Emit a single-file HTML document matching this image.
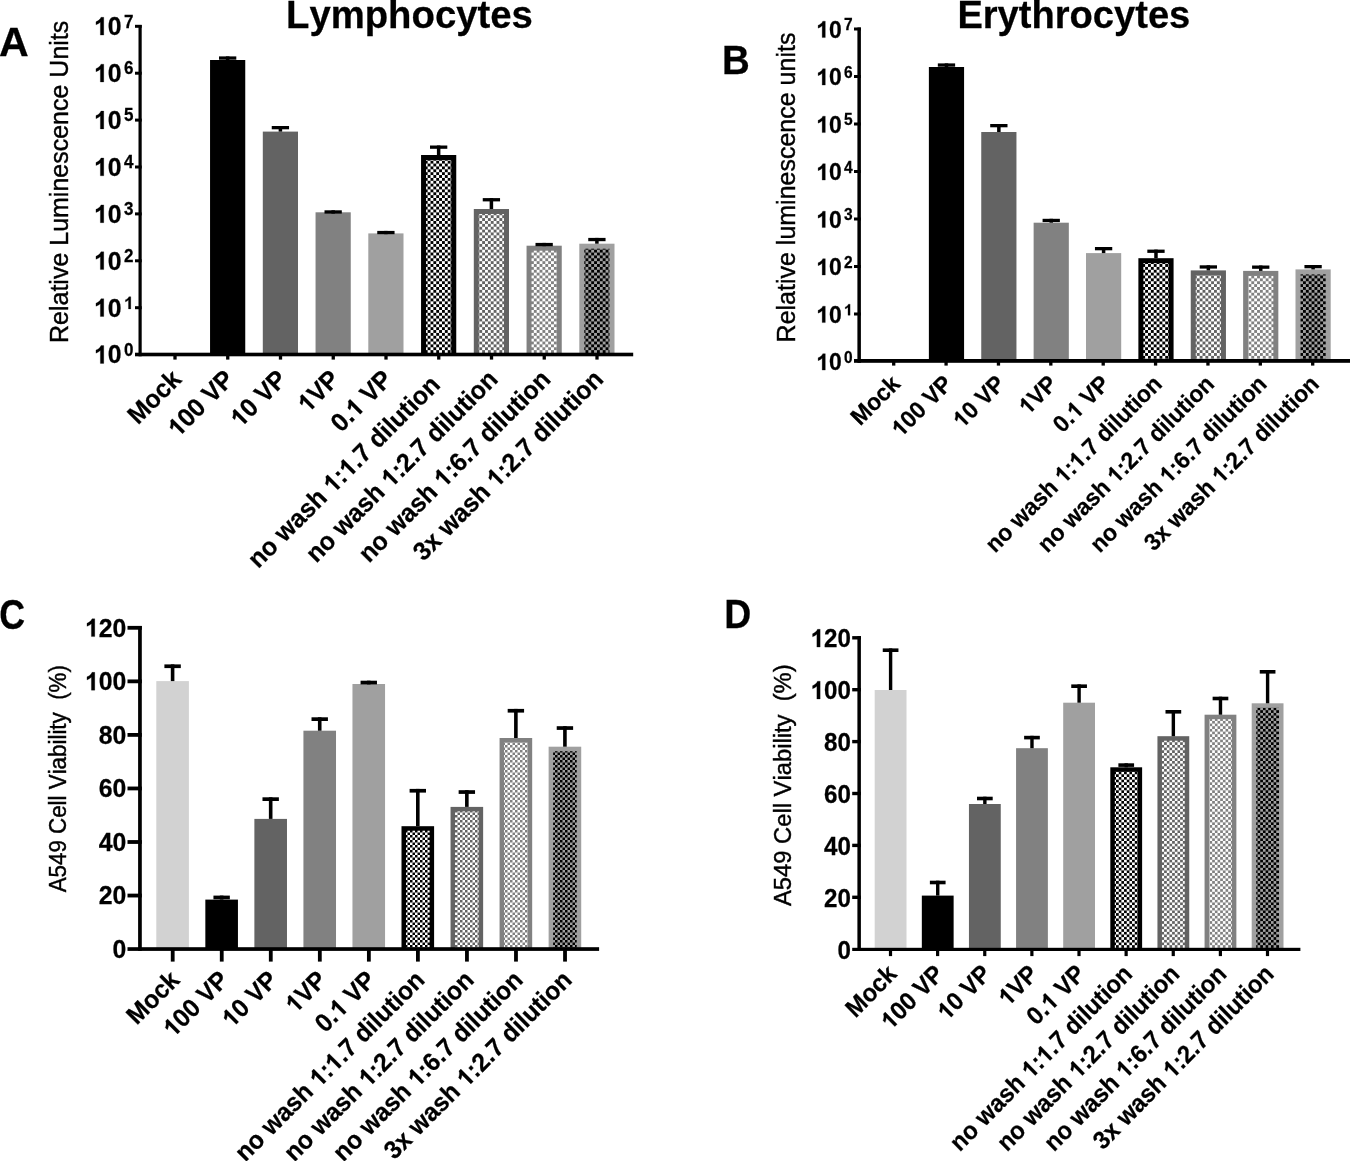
<!DOCTYPE html>
<html><head><meta charset="utf-8"><title>Figure</title>
<style>html,body{margin:0;padding:0;background:#fff;}svg{display:block;will-change:transform;}text{font-family:"Liberation Sans",sans-serif;fill:#000;font-kerning:none;white-space:pre;}.b{font-weight:bold;stroke:#000;stroke-width:0.25px;}.r{font-weight:normal;stroke:#000;stroke-width:0.4px;}</style></head><body>
<svg width="1350" height="1161" viewBox="0 0 1350 1161">
<rect width="1350" height="1161" fill="#fff"/>
<defs>
<pattern id="pak" x="0" y="0" width="5.74" height="5.74" patternUnits="userSpaceOnUse">
<rect width="5.74" height="5.74" fill="#fff"/>
<rect x="0" y="0" width="2.87" height="2.87" fill="#000"/>
<rect x="2.87" y="2.87" width="2.87" height="2.87" fill="#000"/>
</pattern>
<pattern id="pad" x="0" y="0" width="5.74" height="5.74" patternUnits="userSpaceOnUse">
<rect width="5.74" height="5.74" fill="#fff"/>
<rect x="0" y="0" width="2.87" height="2.87" fill="#636363"/>
<rect x="2.87" y="2.87" width="2.87" height="2.87" fill="#636363"/>
</pattern>
<pattern id="pam" x="0" y="0" width="5.74" height="5.74" patternUnits="userSpaceOnUse">
<rect width="5.74" height="5.74" fill="#fff"/>
<rect x="0" y="0" width="2.87" height="2.87" fill="#818181"/>
<rect x="2.87" y="2.87" width="2.87" height="2.87" fill="#818181"/>
</pattern>
<pattern id="pal" x="0" y="0" width="5.74" height="5.74" patternUnits="userSpaceOnUse">
<rect width="5.74" height="5.74" fill="#a0a0a0"/>
<rect x="0" y="0" width="2.87" height="2.87" fill="#000"/>
<rect x="2.87" y="2.87" width="2.87" height="2.87" fill="#000"/>
</pattern>
<pattern id="pck" x="0" y="0" width="5" height="5" patternUnits="userSpaceOnUse">
<rect width="5" height="5" fill="#fff"/>
<rect x="0" y="0" width="2.5" height="2.5" fill="#000"/>
<rect x="2.5" y="2.5" width="2.5" height="2.5" fill="#000"/>
</pattern>
<pattern id="pcd" x="0" y="0" width="5" height="5" patternUnits="userSpaceOnUse">
<rect width="5" height="5" fill="#fff"/>
<rect x="0" y="0" width="2.5" height="2.5" fill="#636363"/>
<rect x="2.5" y="2.5" width="2.5" height="2.5" fill="#636363"/>
</pattern>
<pattern id="pcm" x="0" y="0" width="5" height="5" patternUnits="userSpaceOnUse">
<rect width="5" height="5" fill="#fff"/>
<rect x="0" y="0" width="2.5" height="2.5" fill="#818181"/>
<rect x="2.5" y="2.5" width="2.5" height="2.5" fill="#818181"/>
</pattern>
<pattern id="pcl" x="0" y="0" width="5" height="5" patternUnits="userSpaceOnUse">
<rect width="5" height="5" fill="#a0a0a0"/>
<rect x="0" y="0" width="2.5" height="2.5" fill="#000"/>
<rect x="2.5" y="2.5" width="2.5" height="2.5" fill="#000"/>
</pattern>
<pattern id="pdk" x="0" y="0" width="5.34" height="5.34" patternUnits="userSpaceOnUse">
<rect width="5.34" height="5.34" fill="#fff"/>
<rect x="0" y="0" width="2.67" height="2.67" fill="#000"/>
<rect x="2.67" y="2.67" width="2.67" height="2.67" fill="#000"/>
</pattern>
<pattern id="pdd" x="0" y="0" width="5.34" height="5.34" patternUnits="userSpaceOnUse">
<rect width="5.34" height="5.34" fill="#fff"/>
<rect x="0" y="0" width="2.67" height="2.67" fill="#636363"/>
<rect x="2.67" y="2.67" width="2.67" height="2.67" fill="#636363"/>
</pattern>
<pattern id="pdm" x="0" y="0" width="5.34" height="5.34" patternUnits="userSpaceOnUse">
<rect width="5.34" height="5.34" fill="#fff"/>
<rect x="0" y="0" width="2.67" height="2.67" fill="#818181"/>
<rect x="2.67" y="2.67" width="2.67" height="2.67" fill="#818181"/>
</pattern>
<pattern id="pdl" x="0" y="0" width="5.34" height="5.34" patternUnits="userSpaceOnUse">
<rect width="5.34" height="5.34" fill="#a0a0a0"/>
<rect x="0" y="0" width="2.67" height="2.67" fill="#000"/>
<rect x="2.67" y="2.67" width="2.67" height="2.67" fill="#000"/>
</pattern>
</defs>
<g id="panelA">
<rect x="210.05" y="60" width="35.2" height="293.7" fill="#000000"/>
<rect x="225.9" y="56.4" width="3.5" height="3.6" fill="#000"/>
<rect x="219" y="56.4" width="17.3" height="3.3" fill="#000"/>
<rect x="262.8" y="131.6" width="35.2" height="222.1" fill="#636363"/>
<rect x="278.65" y="126" width="3.5" height="5.6" fill="#000"/>
<rect x="271.75" y="126" width="17.3" height="3.3" fill="#000"/>
<rect x="315.55" y="212.3" width="35.2" height="141.4" fill="#818181"/>
<rect x="331.4" y="210.3" width="3.5" height="3.3" fill="#000"/>
<rect x="324.5" y="210.3" width="17.3" height="3.3" fill="#000"/>
<rect x="368.3" y="233.4" width="35.2" height="120.3" fill="#a0a0a0"/>
<rect x="384.15" y="230.9" width="3.5" height="3.3" fill="#000"/>
<rect x="377.25" y="230.9" width="17.3" height="3.3" fill="#000"/>
<rect x="421.05" y="155" width="35.2" height="198.7" fill="#000000"/>
<rect x="426.05" y="160" width="25.2" height="193.7" fill="url(#pak)"/>
<rect x="436.9" y="145.5" width="3.5" height="9.5" fill="#000"/>
<rect x="430" y="145.5" width="17.3" height="3.3" fill="#000"/>
<rect x="473.8" y="209" width="35.2" height="144.7" fill="#636363"/>
<rect x="478.8" y="214" width="25.2" height="139.7" fill="url(#pad)"/>
<rect x="489.65" y="198.1" width="3.5" height="10.9" fill="#000"/>
<rect x="482.75" y="198.1" width="17.3" height="3.3" fill="#000"/>
<rect x="526.55" y="245.7" width="35.2" height="108" fill="#818181"/>
<rect x="531.55" y="250.7" width="25.2" height="103" fill="url(#pam)"/>
<rect x="542.4" y="242.9" width="3.5" height="3.3" fill="#000"/>
<rect x="535.5" y="242.9" width="17.3" height="3.3" fill="#000"/>
<rect x="579.3" y="243.7" width="35.2" height="110" fill="#a0a0a0"/>
<rect x="584.3" y="248.7" width="25.2" height="105" fill="url(#pal)"/>
<rect x="595.15" y="237.9" width="3.5" height="5.8" fill="#000"/>
<rect x="588.25" y="237.9" width="17.3" height="3.3" fill="#000"/>
<rect x="138.5" y="25" width="3.2" height="331.3" fill="#000"/>
<rect x="135" y="352.7" width="498.2" height="3.6" fill="#000"/>
<rect x="135" y="24.8" width="6.7" height="3" fill="#000"/>
<rect x="135" y="71.7" width="6.7" height="3" fill="#000"/>
<rect x="135" y="118.6" width="6.7" height="3" fill="#000"/>
<rect x="135" y="165.5" width="6.7" height="3" fill="#000"/>
<rect x="135" y="212.4" width="6.7" height="3" fill="#000"/>
<rect x="135" y="259.3" width="6.7" height="3" fill="#000"/>
<rect x="135" y="306.2" width="6.7" height="3" fill="#000"/>
<rect x="173.35" y="355.3" width="3.3" height="4.3" fill="#000"/>
<rect x="226.1" y="355.3" width="3.3" height="4.3" fill="#000"/>
<rect x="278.85" y="355.3" width="3.3" height="4.3" fill="#000"/>
<rect x="331.6" y="355.3" width="3.3" height="4.3" fill="#000"/>
<rect x="384.35" y="355.3" width="3.3" height="4.3" fill="#000"/>
<rect x="437.1" y="355.3" width="3.3" height="4.3" fill="#000"/>
<rect x="489.85" y="355.3" width="3.3" height="4.3" fill="#000"/>
<rect x="542.6" y="355.3" width="3.3" height="4.3" fill="#000"/>
<rect x="595.35" y="355.3" width="3.3" height="4.3" fill="#000"/>
<g transform="translate(94 35.1) scale(1 1.04)">
<path transform="translate(0 0) scale(0.01211 -0.01164)" d="M806 0H525V1059Q371 915 162 846V1101Q272 1137 401 1237.5T578 1472H806Z" stroke="#000" stroke-width="20.6"/>
<text x="13.79" class="b" font-size="24.8">0</text>
</g>
<text transform="translate(124.1 27.5) scale(1 1.04)" class="b" font-size="17">7</text>
<g transform="translate(94 82) scale(1 1.04)">
<path transform="translate(0 0) scale(0.01211 -0.01164)" d="M806 0H525V1059Q371 915 162 846V1101Q272 1137 401 1237.5T578 1472H806Z" stroke="#000" stroke-width="20.6"/>
<text x="13.79" class="b" font-size="24.8">0</text>
</g>
<text transform="translate(124.1 74.4) scale(1 1.04)" class="b" font-size="17">6</text>
<g transform="translate(94 128.9) scale(1 1.04)">
<path transform="translate(0 0) scale(0.01211 -0.01164)" d="M806 0H525V1059Q371 915 162 846V1101Q272 1137 401 1237.5T578 1472H806Z" stroke="#000" stroke-width="20.6"/>
<text x="13.79" class="b" font-size="24.8">0</text>
</g>
<text transform="translate(124.1 121.3) scale(1 1.04)" class="b" font-size="17">5</text>
<g transform="translate(94 175.8) scale(1 1.04)">
<path transform="translate(0 0) scale(0.01211 -0.01164)" d="M806 0H525V1059Q371 915 162 846V1101Q272 1137 401 1237.5T578 1472H806Z" stroke="#000" stroke-width="20.6"/>
<text x="13.79" class="b" font-size="24.8">0</text>
</g>
<text transform="translate(124.1 168.2) scale(1 1.04)" class="b" font-size="17">4</text>
<g transform="translate(94 222.7) scale(1 1.04)">
<path transform="translate(0 0) scale(0.01211 -0.01164)" d="M806 0H525V1059Q371 915 162 846V1101Q272 1137 401 1237.5T578 1472H806Z" stroke="#000" stroke-width="20.6"/>
<text x="13.79" class="b" font-size="24.8">0</text>
</g>
<text transform="translate(124.1 215.1) scale(1 1.04)" class="b" font-size="17">3</text>
<g transform="translate(94 269.6) scale(1 1.04)">
<path transform="translate(0 0) scale(0.01211 -0.01164)" d="M806 0H525V1059Q371 915 162 846V1101Q272 1137 401 1237.5T578 1472H806Z" stroke="#000" stroke-width="20.6"/>
<text x="13.79" class="b" font-size="24.8">0</text>
</g>
<text transform="translate(124.1 262) scale(1 1.04)" class="b" font-size="17">2</text>
<g transform="translate(94 316.5) scale(1 1.04)">
<path transform="translate(0 0) scale(0.01211 -0.01164)" d="M806 0H525V1059Q371 915 162 846V1101Q272 1137 401 1237.5T578 1472H806Z" stroke="#000" stroke-width="20.6"/>
<text x="13.79" class="b" font-size="24.8">0</text>
</g>
<g transform="translate(124.1 308.9) scale(1 1.04)">
<path transform="translate(0 0) scale(0.00830 -0.00798)" d="M806 0H525V1059Q371 915 162 846V1101Q272 1137 401 1237.5T578 1472H806Z" stroke="#000" stroke-width="30.1"/>
</g>
<g transform="translate(94 363.4) scale(1 1.04)">
<path transform="translate(0 0) scale(0.01211 -0.01164)" d="M806 0H525V1059Q371 915 162 846V1101Q272 1137 401 1237.5T578 1472H806Z" stroke="#000" stroke-width="20.6"/>
<text x="13.79" class="b" font-size="24.8">0</text>
</g>
<text transform="translate(124.1 355.8) scale(1 1.04)" class="b" font-size="17">0</text>
<text transform="translate(67.9 343) rotate(-90) scale(1 1.04)" class="r" font-size="25">Relative Luminescence Units</text>
<text transform="translate(182.8 380.7) rotate(-45) scale(1 1.04)" class="b" text-anchor="end" font-size="24.8">Mock</text>
<g transform="translate(235.55 380.7) rotate(-45) scale(1 1.04)">
<path transform="translate(-81.35 0) scale(0.01211 -0.01164)" d="M806 0H525V1059Q371 915 162 846V1101Q272 1137 401 1237.5T578 1472H806Z" stroke="#000" stroke-width="20.6"/>
<text x="-67.56" class="b" font-size="24.8">00 VP</text>
</g>
<g transform="translate(288.3 380.7) rotate(-45) scale(1 1.04)">
<path transform="translate(-67.56 0) scale(0.01211 -0.01164)" d="M806 0H525V1059Q371 915 162 846V1101Q272 1137 401 1237.5T578 1472H806Z" stroke="#000" stroke-width="20.6"/>
<text x="-53.77" class="b" font-size="24.8">0 VP</text>
</g>
<g transform="translate(341.05 380.7) rotate(-45) scale(1 1.04)">
<path transform="translate(-46.88 0) scale(0.01211 -0.01164)" d="M806 0H525V1059Q371 915 162 846V1101Q272 1137 401 1237.5T578 1472H806Z" stroke="#000" stroke-width="20.6"/>
<text x="-33.08" class="b" font-size="24.8">VP</text>
</g>
<g transform="translate(393.8 380.7) rotate(-45) scale(1 1.04)">
<text x="-74.45" class="b" font-size="24.8">0.</text>
<path transform="translate(-53.77 0) scale(0.01211 -0.01164)" d="M806 0H525V1059Q371 915 162 846V1101Q272 1137 401 1237.5T578 1472H806Z" stroke="#000" stroke-width="20.6"/>
<text x="-39.97" class="b" font-size="24.8"> VP</text>
</g>
<g transform="translate(441.45 386.2) rotate(-45) scale(1 1.04)">
<text x="-259.04" class="b" font-size="24.8">no wash </text>
<path transform="translate(-152.94 0) scale(0.01211 -0.01164)" d="M806 0H525V1059Q371 915 162 846V1101Q272 1137 401 1237.5T578 1472H806Z" stroke="#000" stroke-width="20.6"/>
<text x="-139.15" class="b" font-size="24.8">:</text>
<path transform="translate(-130.89 0) scale(0.01211 -0.01164)" d="M806 0H525V1059Q371 915 162 846V1101Q272 1137 401 1237.5T578 1472H806Z" stroke="#000" stroke-width="20.6"/>
<text x="-117.1" class="b" font-size="24.8">.7 dilution</text>
</g>
<g transform="translate(499.3 380.7) rotate(-45) scale(1 1.04)">
<text x="-259.04" class="b" font-size="24.8">no wash </text>
<path transform="translate(-152.94 0) scale(0.01211 -0.01164)" d="M806 0H525V1059Q371 915 162 846V1101Q272 1137 401 1237.5T578 1472H806Z" stroke="#000" stroke-width="20.6"/>
<text x="-139.15" class="b" font-size="24.8">:2.7 dilution</text>
</g>
<g transform="translate(552.05 380.7) rotate(-45) scale(1 1.04)">
<text x="-259.04" class="b" font-size="24.8">no wash </text>
<path transform="translate(-152.94 0) scale(0.01211 -0.01164)" d="M806 0H525V1059Q371 915 162 846V1101Q272 1137 401 1237.5T578 1472H806Z" stroke="#000" stroke-width="20.6"/>
<text x="-139.15" class="b" font-size="24.8">:6.7 dilution</text>
</g>
<g transform="translate(604.8 380.7) rotate(-45) scale(1 1.04)">
<text x="-256.33" class="b" font-size="24.8">3x wash </text>
<path transform="translate(-152.94 0) scale(0.01211 -0.01164)" d="M806 0H525V1059Q371 915 162 846V1101Q272 1137 401 1237.5T578 1472H806Z" stroke="#000" stroke-width="20.6"/>
<text x="-139.15" class="b" font-size="24.8">:2.7 dilution</text>
</g>
<text transform="translate(-0.9 56) scale(1.07 1.04)" class="b" font-size="38.5">A</text>
<text transform="translate(286 28.2) scale(1 1.02)" class="b" font-size="38.3">Lymphocytes</text>
</g>
<g id="panelB">
<rect x="928.88" y="67" width="35.2" height="293" fill="#000000"/>
<rect x="944.73" y="63.4" width="3.5" height="3.6" fill="#000"/>
<rect x="937.83" y="63.4" width="17.3" height="3.3" fill="#000"/>
<rect x="981.25" y="132" width="35.2" height="228" fill="#636363"/>
<rect x="997.1" y="124" width="3.5" height="8" fill="#000"/>
<rect x="990.2" y="124" width="17.3" height="3.3" fill="#000"/>
<rect x="1033.63" y="222.7" width="35.2" height="137.3" fill="#818181"/>
<rect x="1049.48" y="218.8" width="3.5" height="3.9" fill="#000"/>
<rect x="1042.58" y="218.8" width="17.3" height="3.3" fill="#000"/>
<rect x="1086" y="253.1" width="35.2" height="106.9" fill="#a0a0a0"/>
<rect x="1101.85" y="247" width="3.5" height="6.1" fill="#000"/>
<rect x="1094.95" y="247" width="17.3" height="3.3" fill="#000"/>
<rect x="1138.38" y="258.2" width="35.2" height="101.8" fill="#000000"/>
<rect x="1143.38" y="263.2" width="25.2" height="96.8" fill="url(#pak)"/>
<rect x="1154.23" y="249.6" width="3.5" height="8.6" fill="#000"/>
<rect x="1147.33" y="249.6" width="17.3" height="3.3" fill="#000"/>
<rect x="1190.75" y="270.4" width="35.2" height="89.6" fill="#636363"/>
<rect x="1195.75" y="275.4" width="25.2" height="84.6" fill="url(#pad)"/>
<rect x="1206.6" y="265.3" width="3.5" height="5.1" fill="#000"/>
<rect x="1199.7" y="265.3" width="17.3" height="3.3" fill="#000"/>
<rect x="1243.13" y="270.9" width="35.2" height="89.1" fill="#818181"/>
<rect x="1248.13" y="275.9" width="25.2" height="84.1" fill="url(#pam)"/>
<rect x="1258.98" y="265.5" width="3.5" height="5.4" fill="#000"/>
<rect x="1252.08" y="265.5" width="17.3" height="3.3" fill="#000"/>
<rect x="1295.5" y="269.4" width="35.2" height="90.6" fill="#a0a0a0"/>
<rect x="1300.5" y="274.4" width="25.2" height="85.6" fill="url(#pal)"/>
<rect x="1311.35" y="265" width="3.5" height="4.4" fill="#000"/>
<rect x="1304.45" y="265" width="17.3" height="3.3" fill="#000"/>
<rect x="857.4" y="27.5" width="3.5" height="335.3" fill="#000"/>
<rect x="854" y="359" width="496" height="3.8" fill="#000"/>
<rect x="854" y="27.5" width="6.9" height="3" fill="#000"/>
<rect x="854" y="75" width="6.9" height="3" fill="#000"/>
<rect x="854" y="122.5" width="6.9" height="3" fill="#000"/>
<rect x="854" y="170" width="6.9" height="3" fill="#000"/>
<rect x="854" y="217.5" width="6.9" height="3" fill="#000"/>
<rect x="854" y="265" width="6.9" height="3" fill="#000"/>
<rect x="854" y="312.5" width="6.9" height="3" fill="#000"/>
<rect x="892.05" y="361.8" width="3.3" height="3.8" fill="#000"/>
<rect x="944.43" y="361.8" width="3.3" height="3.8" fill="#000"/>
<rect x="996.8" y="361.8" width="3.3" height="3.8" fill="#000"/>
<rect x="1049.17" y="361.8" width="3.3" height="3.8" fill="#000"/>
<rect x="1101.55" y="361.8" width="3.3" height="3.8" fill="#000"/>
<rect x="1153.92" y="361.8" width="3.3" height="3.8" fill="#000"/>
<rect x="1206.3" y="361.8" width="3.3" height="3.8" fill="#000"/>
<rect x="1258.67" y="361.8" width="3.3" height="3.8" fill="#000"/>
<rect x="1311.05" y="361.8" width="3.3" height="3.8" fill="#000"/>
<g transform="translate(816.3 37.6) scale(1 1.04)">
<path transform="translate(0 0) scale(0.01118 -0.01075)" d="M806 0H525V1059Q371 915 162 846V1101Q272 1137 401 1237.5T578 1472H806Z" stroke="#000" stroke-width="22.4"/>
<text x="12.74" class="b" font-size="22.9">0</text>
</g>
<text transform="translate(844 30.3) scale(1 1.04)" class="b" font-size="15.5">7</text>
<g transform="translate(816.3 85.1) scale(1 1.04)">
<path transform="translate(0 0) scale(0.01118 -0.01075)" d="M806 0H525V1059Q371 915 162 846V1101Q272 1137 401 1237.5T578 1472H806Z" stroke="#000" stroke-width="22.4"/>
<text x="12.74" class="b" font-size="22.9">0</text>
</g>
<text transform="translate(844 77.8) scale(1 1.04)" class="b" font-size="15.5">6</text>
<g transform="translate(816.3 132.6) scale(1 1.04)">
<path transform="translate(0 0) scale(0.01118 -0.01075)" d="M806 0H525V1059Q371 915 162 846V1101Q272 1137 401 1237.5T578 1472H806Z" stroke="#000" stroke-width="22.4"/>
<text x="12.74" class="b" font-size="22.9">0</text>
</g>
<text transform="translate(844 125.3) scale(1 1.04)" class="b" font-size="15.5">5</text>
<g transform="translate(816.3 180.1) scale(1 1.04)">
<path transform="translate(0 0) scale(0.01118 -0.01075)" d="M806 0H525V1059Q371 915 162 846V1101Q272 1137 401 1237.5T578 1472H806Z" stroke="#000" stroke-width="22.4"/>
<text x="12.74" class="b" font-size="22.9">0</text>
</g>
<text transform="translate(844 172.8) scale(1 1.04)" class="b" font-size="15.5">4</text>
<g transform="translate(816.3 227.6) scale(1 1.04)">
<path transform="translate(0 0) scale(0.01118 -0.01075)" d="M806 0H525V1059Q371 915 162 846V1101Q272 1137 401 1237.5T578 1472H806Z" stroke="#000" stroke-width="22.4"/>
<text x="12.74" class="b" font-size="22.9">0</text>
</g>
<text transform="translate(844 220.3) scale(1 1.04)" class="b" font-size="15.5">3</text>
<g transform="translate(816.3 275.1) scale(1 1.04)">
<path transform="translate(0 0) scale(0.01118 -0.01075)" d="M806 0H525V1059Q371 915 162 846V1101Q272 1137 401 1237.5T578 1472H806Z" stroke="#000" stroke-width="22.4"/>
<text x="12.74" class="b" font-size="22.9">0</text>
</g>
<text transform="translate(844 267.8) scale(1 1.04)" class="b" font-size="15.5">2</text>
<g transform="translate(816.3 322.6) scale(1 1.04)">
<path transform="translate(0 0) scale(0.01118 -0.01075)" d="M806 0H525V1059Q371 915 162 846V1101Q272 1137 401 1237.5T578 1472H806Z" stroke="#000" stroke-width="22.4"/>
<text x="12.74" class="b" font-size="22.9">0</text>
</g>
<g transform="translate(844 315.3) scale(1 1.04)">
<path transform="translate(0 0) scale(0.00757 -0.00728)" d="M806 0H525V1059Q371 915 162 846V1101Q272 1137 401 1237.5T578 1472H806Z" stroke="#000" stroke-width="33.0"/>
</g>
<g transform="translate(816.3 370.1) scale(1 1.04)">
<path transform="translate(0 0) scale(0.01118 -0.01075)" d="M806 0H525V1059Q371 915 162 846V1101Q272 1137 401 1237.5T578 1472H806Z" stroke="#000" stroke-width="22.4"/>
<text x="12.74" class="b" font-size="22.9">0</text>
</g>
<text transform="translate(844 362.8) scale(1 1.04)" class="b" font-size="15.5">0</text>
<text transform="translate(795 342.4) rotate(-90) scale(1 1.04)" class="r" font-size="25">Relative luminescence units</text>
<text transform="translate(901.4 385.3) rotate(-45) scale(1 1.04)" class="b" text-anchor="end" font-size="22.8">Mock</text>
<g transform="translate(953.78 385.3) rotate(-45) scale(1 1.04)">
<path transform="translate(-74.79 0) scale(0.01113 -0.01070)" d="M806 0H525V1059Q371 915 162 846V1101Q272 1137 401 1237.5T578 1472H806Z" stroke="#000" stroke-width="22.5"/>
<text x="-62.11" class="b" font-size="22.8">00 VP</text>
</g>
<g transform="translate(1006.15 385.3) rotate(-45) scale(1 1.04)">
<path transform="translate(-62.11 0) scale(0.01113 -0.01070)" d="M806 0H525V1059Q371 915 162 846V1101Q272 1137 401 1237.5T578 1472H806Z" stroke="#000" stroke-width="22.5"/>
<text x="-49.43" class="b" font-size="22.8">0 VP</text>
</g>
<g transform="translate(1058.53 385.3) rotate(-45) scale(1 1.04)">
<path transform="translate(-43.1 0) scale(0.01113 -0.01070)" d="M806 0H525V1059Q371 915 162 846V1101Q272 1137 401 1237.5T578 1472H806Z" stroke="#000" stroke-width="22.5"/>
<text x="-30.41" class="b" font-size="22.8">VP</text>
</g>
<g transform="translate(1110.9 385.3) rotate(-45) scale(1 1.04)">
<text x="-68.44" class="b" font-size="22.8">0.</text>
<path transform="translate(-49.43 0) scale(0.01113 -0.01070)" d="M806 0H525V1059Q371 915 162 846V1101Q272 1137 401 1237.5T578 1472H806Z" stroke="#000" stroke-width="22.5"/>
<text x="-36.75" class="b" font-size="22.8"> VP</text>
</g>
<g transform="translate(1163.28 385.3) rotate(-45) scale(1 1.04)">
<text x="-238.15" class="b" font-size="22.8">no wash </text>
<path transform="translate(-140.61 0) scale(0.01113 -0.01070)" d="M806 0H525V1059Q371 915 162 846V1101Q272 1137 401 1237.5T578 1472H806Z" stroke="#000" stroke-width="22.5"/>
<text x="-127.93" class="b" font-size="22.8">:</text>
<path transform="translate(-120.33 0) scale(0.01113 -0.01070)" d="M806 0H525V1059Q371 915 162 846V1101Q272 1137 401 1237.5T578 1472H806Z" stroke="#000" stroke-width="22.5"/>
<text x="-107.65" class="b" font-size="22.8">.7 dilution</text>
</g>
<g transform="translate(1215.65 385.3) rotate(-45) scale(1 1.04)">
<text x="-238.15" class="b" font-size="22.8">no wash </text>
<path transform="translate(-140.61 0) scale(0.01113 -0.01070)" d="M806 0H525V1059Q371 915 162 846V1101Q272 1137 401 1237.5T578 1472H806Z" stroke="#000" stroke-width="22.5"/>
<text x="-127.93" class="b" font-size="22.8">:2.7 dilution</text>
</g>
<g transform="translate(1268.03 385.3) rotate(-45) scale(1 1.04)">
<text x="-238.15" class="b" font-size="22.8">no wash </text>
<path transform="translate(-140.61 0) scale(0.01113 -0.01070)" d="M806 0H525V1059Q371 915 162 846V1101Q272 1137 401 1237.5T578 1472H806Z" stroke="#000" stroke-width="22.5"/>
<text x="-127.93" class="b" font-size="22.8">:6.7 dilution</text>
</g>
<g transform="translate(1320.4 385.3) rotate(-45) scale(1 1.04)">
<text x="-235.66" class="b" font-size="22.8">3x wash </text>
<path transform="translate(-140.61 0) scale(0.01113 -0.01070)" d="M806 0H525V1059Q371 915 162 846V1101Q272 1137 401 1237.5T578 1472H806Z" stroke="#000" stroke-width="22.5"/>
<text x="-127.93" class="b" font-size="22.8">:2.7 dilution</text>
</g>
<text transform="translate(721.9 73.8) scale(1 1.04)" class="b" font-size="38.5">B</text>
<text transform="translate(957.4 27.6) scale(1 1.02)" class="b" font-size="38.1">Erythrocytes</text>
</g>
<g id="panelC">
<rect x="156.3" y="681.1" width="32.6" height="267.1" fill="#d2d2d2"/>
<rect x="170.8" y="664.4" width="3.6" height="16.7" fill="#000"/>
<rect x="164.4" y="664.4" width="16.4" height="3.7" fill="#000"/>
<rect x="205.34" y="899.6" width="32.6" height="48.6" fill="#000000"/>
<rect x="219.84" y="895.6" width="3.6" height="4" fill="#000"/>
<rect x="213.44" y="895.6" width="16.4" height="3.7" fill="#000"/>
<rect x="254.38" y="818.9" width="32.6" height="129.3" fill="#636363"/>
<rect x="268.88" y="797.3" width="3.6" height="21.6" fill="#000"/>
<rect x="262.48" y="797.3" width="16.4" height="3.7" fill="#000"/>
<rect x="303.42" y="730.7" width="32.6" height="217.5" fill="#818181"/>
<rect x="317.92" y="717.3" width="3.6" height="13.4" fill="#000"/>
<rect x="311.52" y="717.3" width="16.4" height="3.7" fill="#000"/>
<rect x="352.46" y="684" width="32.6" height="264.2" fill="#a0a0a0"/>
<rect x="366.96" y="680.7" width="3.6" height="3.7" fill="#000"/>
<rect x="360.56" y="680.7" width="16.4" height="3.7" fill="#000"/>
<rect x="401.5" y="826.2" width="32.6" height="122" fill="#000000"/>
<rect x="406" y="830.7" width="23.6" height="117.5" fill="url(#pck)"/>
<rect x="416" y="788.9" width="3.6" height="37.3" fill="#000"/>
<rect x="409.6" y="788.9" width="16.4" height="3.7" fill="#000"/>
<rect x="450.54" y="806.9" width="32.6" height="141.3" fill="#636363"/>
<rect x="455.04" y="811.4" width="23.6" height="136.8" fill="url(#pcd)"/>
<rect x="465.04" y="790.2" width="3.6" height="16.7" fill="#000"/>
<rect x="458.64" y="790.2" width="16.4" height="3.7" fill="#000"/>
<rect x="499.58" y="738" width="32.6" height="210.2" fill="#818181"/>
<rect x="504.08" y="742.5" width="23.6" height="205.7" fill="url(#pcm)"/>
<rect x="514.08" y="708.9" width="3.6" height="29.1" fill="#000"/>
<rect x="507.68" y="708.9" width="16.4" height="3.7" fill="#000"/>
<rect x="548.62" y="746.7" width="32.6" height="201.5" fill="#a0a0a0"/>
<rect x="553.12" y="751.2" width="23.6" height="197" fill="url(#pcl)"/>
<rect x="563.12" y="726.2" width="3.6" height="20.5" fill="#000"/>
<rect x="556.72" y="726.2" width="16.4" height="3.7" fill="#000"/>
<rect x="138.1" y="626" width="3.7" height="324.9" fill="#000"/>
<rect x="127.5" y="947.2" width="471.6" height="3.7" fill="#000"/>
<rect x="127.5" y="625.9" width="14.3" height="3.8" fill="#000"/>
<rect x="127.5" y="679.45" width="14.3" height="3.8" fill="#000"/>
<rect x="127.5" y="733" width="14.3" height="3.8" fill="#000"/>
<rect x="127.5" y="786.55" width="14.3" height="3.8" fill="#000"/>
<rect x="127.5" y="840.1" width="14.3" height="3.8" fill="#000"/>
<rect x="127.5" y="893.65" width="14.3" height="3.8" fill="#000"/>
<rect x="170.8" y="949.9" width="3.8" height="11.7" fill="#000"/>
<rect x="219.84" y="949.9" width="3.8" height="11.7" fill="#000"/>
<rect x="268.88" y="949.9" width="3.8" height="11.7" fill="#000"/>
<rect x="317.92" y="949.9" width="3.8" height="11.7" fill="#000"/>
<rect x="366.96" y="949.9" width="3.8" height="11.7" fill="#000"/>
<rect x="416" y="949.9" width="3.8" height="11.7" fill="#000"/>
<rect x="465.04" y="949.9" width="3.8" height="11.7" fill="#000"/>
<rect x="514.08" y="949.9" width="3.8" height="11.7" fill="#000"/>
<rect x="563.12" y="949.9" width="3.8" height="11.7" fill="#000"/>
<g transform="translate(126.4 636.6) scale(1 1.04)">
<path transform="translate(-41.38 0) scale(0.01211 -0.01164)" d="M806 0H525V1059Q371 915 162 846V1101Q272 1137 401 1237.5T578 1472H806Z" stroke="#000" stroke-width="20.6"/>
<text x="-27.59" class="b" font-size="24.8">20</text>
</g>
<g transform="translate(126.4 690.15) scale(1 1.04)">
<path transform="translate(-41.38 0) scale(0.01211 -0.01164)" d="M806 0H525V1059Q371 915 162 846V1101Q272 1137 401 1237.5T578 1472H806Z" stroke="#000" stroke-width="20.6"/>
<text x="-27.59" class="b" font-size="24.8">00</text>
</g>
<text transform="translate(126.4 743.7) scale(1 1.04)" class="b" text-anchor="end" font-size="24.8">80</text>
<text transform="translate(126.4 797.25) scale(1 1.04)" class="b" text-anchor="end" font-size="24.8">60</text>
<text transform="translate(126.4 850.8) scale(1 1.04)" class="b" text-anchor="end" font-size="24.8">40</text>
<text transform="translate(126.4 904.35) scale(1 1.04)" class="b" text-anchor="end" font-size="24.8">20</text>
<text transform="translate(126.4 957.9) scale(1 1.04)" class="b" text-anchor="end" font-size="24.8">0</text>
<text transform="translate(65.9 892.3) rotate(-90) scale(1 1.06)" class="r" font-size="22.35">A549 Cell Viability&#160;&#160;(%)</text>
<text transform="translate(181 981.5) rotate(-45) scale(1 1.04)" class="b" text-anchor="end" font-size="24.5">Mock</text>
<g transform="translate(230.04 981.5) rotate(-45) scale(1 1.04)">
<path transform="translate(-80.37 0) scale(0.01196 -0.01150)" d="M806 0H525V1059Q371 915 162 846V1101Q272 1137 401 1237.5T578 1472H806Z" stroke="#000" stroke-width="20.9"/>
<text x="-66.74" class="b" font-size="24.5">00 VP</text>
</g>
<g transform="translate(279.08 981.5) rotate(-45) scale(1 1.04)">
<path transform="translate(-66.74 0) scale(0.01196 -0.01150)" d="M806 0H525V1059Q371 915 162 846V1101Q272 1137 401 1237.5T578 1472H806Z" stroke="#000" stroke-width="20.9"/>
<text x="-53.12" class="b" font-size="24.5">0 VP</text>
</g>
<g transform="translate(328.12 981.5) rotate(-45) scale(1 1.04)">
<path transform="translate(-46.31 0) scale(0.01196 -0.01150)" d="M806 0H525V1059Q371 915 162 846V1101Q272 1137 401 1237.5T578 1472H806Z" stroke="#000" stroke-width="20.9"/>
<text x="-32.68" class="b" font-size="24.5">VP</text>
</g>
<g transform="translate(377.16 981.5) rotate(-45) scale(1 1.04)">
<text x="-73.55" class="b" font-size="24.5">0.</text>
<path transform="translate(-53.12 0) scale(0.01196 -0.01150)" d="M806 0H525V1059Q371 915 162 846V1101Q272 1137 401 1237.5T578 1472H806Z" stroke="#000" stroke-width="20.9"/>
<text x="-39.49" class="b" font-size="24.5"> VP</text>
</g>
<g transform="translate(426.2 981.5) rotate(-45) scale(1 1.04)">
<text x="-255.91" class="b" font-size="24.5">no wash </text>
<path transform="translate(-151.09 0) scale(0.01196 -0.01150)" d="M806 0H525V1059Q371 915 162 846V1101Q272 1137 401 1237.5T578 1472H806Z" stroke="#000" stroke-width="20.9"/>
<text x="-137.47" class="b" font-size="24.5">:</text>
<path transform="translate(-129.31 0) scale(0.01196 -0.01150)" d="M806 0H525V1059Q371 915 162 846V1101Q272 1137 401 1237.5T578 1472H806Z" stroke="#000" stroke-width="20.9"/>
<text x="-115.68" class="b" font-size="24.5">.7 dilution</text>
</g>
<g transform="translate(475.24 981.5) rotate(-45) scale(1 1.04)">
<text x="-255.91" class="b" font-size="24.5">no wash </text>
<path transform="translate(-151.09 0) scale(0.01196 -0.01150)" d="M806 0H525V1059Q371 915 162 846V1101Q272 1137 401 1237.5T578 1472H806Z" stroke="#000" stroke-width="20.9"/>
<text x="-137.47" class="b" font-size="24.5">:2.7 dilution</text>
</g>
<g transform="translate(524.28 981.5) rotate(-45) scale(1 1.04)">
<text x="-255.91" class="b" font-size="24.5">no wash </text>
<path transform="translate(-151.09 0) scale(0.01196 -0.01150)" d="M806 0H525V1059Q371 915 162 846V1101Q272 1137 401 1237.5T578 1472H806Z" stroke="#000" stroke-width="20.9"/>
<text x="-137.47" class="b" font-size="24.5">:6.7 dilution</text>
</g>
<g transform="translate(573.32 981.5) rotate(-45) scale(1 1.04)">
<text x="-253.23" class="b" font-size="24.5">3x wash </text>
<path transform="translate(-151.09 0) scale(0.01196 -0.01150)" d="M806 0H525V1059Q371 915 162 846V1101Q272 1137 401 1237.5T578 1472H806Z" stroke="#000" stroke-width="20.9"/>
<text x="-137.47" class="b" font-size="24.5">:2.7 dilution</text>
</g>
<text transform="translate(-0.8 628.6) scale(0.93 1.085)" class="b" font-size="38.5">C</text>
</g>
<g id="panelD">
<rect x="874.7" y="690" width="31.8" height="258.8" fill="#d2d2d2"/>
<rect x="888.9" y="648.4" width="3.4" height="41.6" fill="#000"/>
<rect x="882.75" y="648.4" width="15.7" height="3.6" fill="#000"/>
<rect x="921.83" y="895.6" width="31.8" height="53.2" fill="#000000"/>
<rect x="936.02" y="880.7" width="3.4" height="14.9" fill="#000"/>
<rect x="929.88" y="880.7" width="15.7" height="3.6" fill="#000"/>
<rect x="968.95" y="804" width="31.8" height="144.8" fill="#636363"/>
<rect x="983.15" y="796.7" width="3.4" height="7.3" fill="#000"/>
<rect x="977" y="796.7" width="15.7" height="3.6" fill="#000"/>
<rect x="1016.07" y="748.2" width="31.8" height="200.6" fill="#818181"/>
<rect x="1030.27" y="735.8" width="3.4" height="12.4" fill="#000"/>
<rect x="1024.12" y="735.8" width="15.7" height="3.6" fill="#000"/>
<rect x="1063.2" y="702.7" width="31.8" height="246.1" fill="#a0a0a0"/>
<rect x="1077.4" y="684.4" width="3.4" height="18.3" fill="#000"/>
<rect x="1071.25" y="684.4" width="15.7" height="3.6" fill="#000"/>
<rect x="1110.32" y="767.3" width="31.8" height="181.5" fill="#000000"/>
<rect x="1114.82" y="771.8" width="22.8" height="177" fill="url(#pdk)"/>
<rect x="1124.52" y="763.3" width="3.4" height="4" fill="#000"/>
<rect x="1118.38" y="763.3" width="15.7" height="3.6" fill="#000"/>
<rect x="1157.45" y="736.2" width="31.8" height="212.6" fill="#636363"/>
<rect x="1161.95" y="740.7" width="22.8" height="208.1" fill="url(#pdd)"/>
<rect x="1171.65" y="710" width="3.4" height="26.2" fill="#000"/>
<rect x="1165.5" y="710" width="15.7" height="3.6" fill="#000"/>
<rect x="1204.57" y="714.7" width="31.8" height="234.1" fill="#818181"/>
<rect x="1209.07" y="719.2" width="22.8" height="229.6" fill="url(#pdm)"/>
<rect x="1218.77" y="696.7" width="3.4" height="18" fill="#000"/>
<rect x="1212.62" y="696.7" width="15.7" height="3.6" fill="#000"/>
<rect x="1251.7" y="703.3" width="31.8" height="245.5" fill="#a0a0a0"/>
<rect x="1256.2" y="707.8" width="22.8" height="241" fill="url(#pdl)"/>
<rect x="1265.9" y="670" width="3.4" height="33.3" fill="#000"/>
<rect x="1259.75" y="670" width="15.7" height="3.6" fill="#000"/>
<rect x="857.4" y="636.1" width="3.5" height="314.9" fill="#000"/>
<rect x="852.2" y="947.8" width="448.2" height="3.2" fill="#000"/>
<rect x="852.2" y="636.1" width="8.7" height="3.4" fill="#000"/>
<rect x="852.2" y="688" width="8.7" height="3.4" fill="#000"/>
<rect x="852.2" y="739.9" width="8.7" height="3.4" fill="#000"/>
<rect x="852.2" y="791.8" width="8.7" height="3.4" fill="#000"/>
<rect x="852.2" y="843.7" width="8.7" height="3.4" fill="#000"/>
<rect x="852.2" y="895.6" width="8.7" height="3.4" fill="#000"/>
<rect x="888.9" y="950" width="3.2" height="6.1" fill="#000"/>
<rect x="936.02" y="950" width="3.2" height="6.1" fill="#000"/>
<rect x="983.15" y="950" width="3.2" height="6.1" fill="#000"/>
<rect x="1030.28" y="950" width="3.2" height="6.1" fill="#000"/>
<rect x="1077.4" y="950" width="3.2" height="6.1" fill="#000"/>
<rect x="1124.53" y="950" width="3.2" height="6.1" fill="#000"/>
<rect x="1171.65" y="950" width="3.2" height="6.1" fill="#000"/>
<rect x="1218.78" y="950" width="3.2" height="6.1" fill="#000"/>
<rect x="1265.9" y="950" width="3.2" height="6.1" fill="#000"/>
<g transform="translate(851 647.1) scale(0.975 1.04)">
<path transform="translate(-41.38 0) scale(0.01211 -0.01164)" d="M806 0H525V1059Q371 915 162 846V1101Q272 1137 401 1237.5T578 1472H806Z" stroke="#000" stroke-width="20.6"/>
<text x="-27.59" class="b" font-size="24.8">20</text>
</g>
<g transform="translate(851 699) scale(0.975 1.04)">
<path transform="translate(-41.38 0) scale(0.01211 -0.01164)" d="M806 0H525V1059Q371 915 162 846V1101Q272 1137 401 1237.5T578 1472H806Z" stroke="#000" stroke-width="20.6"/>
<text x="-27.59" class="b" font-size="24.8">00</text>
</g>
<text transform="translate(851 750.9) scale(0.975 1.04)" class="b" text-anchor="end" font-size="24.8">80</text>
<text transform="translate(851 802.8) scale(0.975 1.04)" class="b" text-anchor="end" font-size="24.8">60</text>
<text transform="translate(851 854.7) scale(0.975 1.04)" class="b" text-anchor="end" font-size="24.8">40</text>
<text transform="translate(851 906.6) scale(0.975 1.04)" class="b" text-anchor="end" font-size="24.8">20</text>
<text transform="translate(851 958.5) scale(0.975 1.04)" class="b" text-anchor="end" font-size="24.8">0</text>
<text transform="translate(790.6 906.1) rotate(-90) scale(1 1.04)" class="r" font-size="23.78">A549 Cell Viability&#160;&#160;(%)</text>
<text transform="translate(898.1 975.3) scale(0.981 1) rotate(-45) scale(1 1.05)" class="b" text-anchor="end" font-size="24">Mock</text>
<g transform="translate(945.23 975.3) scale(0.981 1) rotate(-45) scale(1 1.05)">
<path transform="translate(-78.73 0) scale(0.01172 -0.01116)" d="M806 0H525V1059Q371 915 162 846V1101Q272 1137 401 1237.5T578 1472H806Z" stroke="#000" stroke-width="21.3"/>
<text x="-65.38" class="b" font-size="24">00 VP</text>
</g>
<g transform="translate(992.35 975.3) scale(0.981 1) rotate(-45) scale(1 1.05)">
<path transform="translate(-65.38 0) scale(0.01172 -0.01116)" d="M806 0H525V1059Q371 915 162 846V1101Q272 1137 401 1237.5T578 1472H806Z" stroke="#000" stroke-width="21.3"/>
<text x="-52.03" class="b" font-size="24">0 VP</text>
</g>
<g transform="translate(1039.47 975.3) scale(0.981 1) rotate(-45) scale(1 1.05)">
<path transform="translate(-45.36 0) scale(0.01172 -0.01116)" d="M806 0H525V1059Q371 915 162 846V1101Q272 1137 401 1237.5T578 1472H806Z" stroke="#000" stroke-width="21.3"/>
<text x="-32.02" class="b" font-size="24">VP</text>
</g>
<g transform="translate(1086.6 975.3) scale(0.981 1) rotate(-45) scale(1 1.05)">
<text x="-72.05" class="b" font-size="24">0.</text>
<path transform="translate(-52.03 0) scale(0.01172 -0.01116)" d="M806 0H525V1059Q371 915 162 846V1101Q272 1137 401 1237.5T578 1472H806Z" stroke="#000" stroke-width="21.3"/>
<text x="-38.68" class="b" font-size="24"> VP</text>
</g>
<g transform="translate(1133.72 975.3) scale(0.981 1) rotate(-45) scale(1 1.05)">
<text x="-250.69" class="b" font-size="24">no wash </text>
<path transform="translate(-148.01 0) scale(0.01172 -0.01116)" d="M806 0H525V1059Q371 915 162 846V1101Q272 1137 401 1237.5T578 1472H806Z" stroke="#000" stroke-width="21.3"/>
<text x="-134.66" class="b" font-size="24">:</text>
<path transform="translate(-126.67 0) scale(0.01172 -0.01116)" d="M806 0H525V1059Q371 915 162 846V1101Q272 1137 401 1237.5T578 1472H806Z" stroke="#000" stroke-width="21.3"/>
<text x="-113.32" class="b" font-size="24">.7 dilution</text>
</g>
<g transform="translate(1180.85 975.3) scale(0.981 1) rotate(-45) scale(1 1.05)">
<text x="-250.69" class="b" font-size="24">no wash </text>
<path transform="translate(-148.01 0) scale(0.01172 -0.01116)" d="M806 0H525V1059Q371 915 162 846V1101Q272 1137 401 1237.5T578 1472H806Z" stroke="#000" stroke-width="21.3"/>
<text x="-134.66" class="b" font-size="24">:2.7 dilution</text>
</g>
<g transform="translate(1227.97 975.3) scale(0.981 1) rotate(-45) scale(1 1.05)">
<text x="-250.69" class="b" font-size="24">no wash </text>
<path transform="translate(-148.01 0) scale(0.01172 -0.01116)" d="M806 0H525V1059Q371 915 162 846V1101Q272 1137 401 1237.5T578 1472H806Z" stroke="#000" stroke-width="21.3"/>
<text x="-134.66" class="b" font-size="24">:6.7 dilution</text>
</g>
<g transform="translate(1275.1 975.3) scale(0.981 1) rotate(-45) scale(1 1.05)">
<text x="-248.06" class="b" font-size="24">3x wash </text>
<path transform="translate(-148.01 0) scale(0.01172 -0.01116)" d="M806 0H525V1059Q371 915 162 846V1101Q272 1137 401 1237.5T578 1472H806Z" stroke="#000" stroke-width="21.3"/>
<text x="-134.66" class="b" font-size="24">:2.7 dilution</text>
</g>
<text transform="translate(724.3 627.9) scale(0.97 1.04)" class="b" font-size="38.5">D</text>
</g>
</svg></body></html>
